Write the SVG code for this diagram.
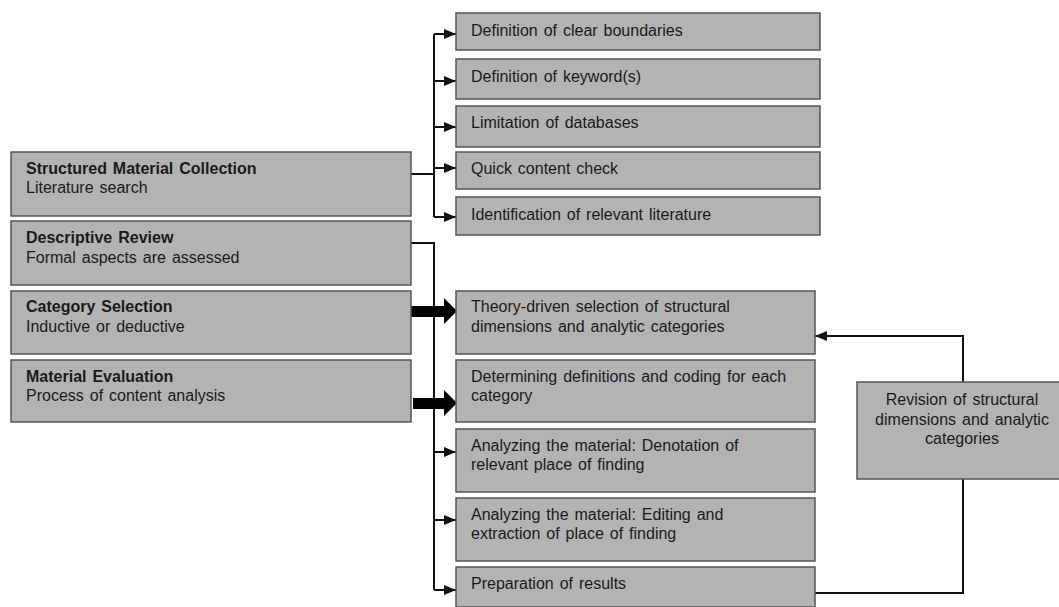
<svg xmlns="http://www.w3.org/2000/svg" width="1059" height="607" viewBox="0 0 1059 607">
<defs>
<style>
.box{fill:#b3b3b3;stroke:#555;stroke-width:1.5}
.t{font-family:"Liberation Sans",Arial,sans-serif;font-size:16px;fill:#1a1a1a;word-spacing:1.5px}
.b{font-weight:bold}
.c{text-anchor:middle}
.ln{fill:none;stroke:#111;stroke-width:2}
</style>
<marker id="ah" markerWidth="12" markerHeight="10" refX="12" refY="5" orient="auto" markerUnits="userSpaceOnUse">
<path d="M0,0 L12,5 L0,10 Z" fill="#111"/>
</marker>
</defs>
<rect width="1059" height="607" fill="#fff"/>

<g id="connectors">
<path class="ln" d="M411,174 H434"/>
<path class="ln" d="M434,34 V217"/>
<path class="ln" d="M434,34 H456" marker-end="url(#ah)"/>
<path class="ln" d="M434,81 H456" marker-end="url(#ah)"/>
<path class="ln" d="M434,127 H456" marker-end="url(#ah)"/>
<path class="ln" d="M434,168 H456" marker-end="url(#ah)"/>
<path class="ln" d="M434,217 H456" marker-end="url(#ah)"/>
<path class="ln" d="M411,243 H434 V590"/>
<path class="ln" d="M434,452 H456" marker-end="url(#ah)"/>
<path class="ln" d="M434,520 H456" marker-end="url(#ah)"/>
<path class="ln" d="M434,590 H456" marker-end="url(#ah)"/>
<path d="M411,306 H444 V298 L457,311 L444,324 V317 H411 Z" fill="#000"/>
<path d="M413,398 H444 V390 L457,403 L444,416 V409 H413 Z" fill="#000"/>
<path class="ln" d="M815,593 H963 V479"/>
<path class="ln" d="M963,382 V336 H815" marker-end="url(#ah)"/>
</g>

<g id="n-smc"><rect class="box" x="11" y="152" width="400" height="64"/>
<text class="t b" x="26" y="174">Structured Material Collection</text>
<text class="t" x="26" y="193">Literature search</text></g>
<g id="n-dr"><rect class="box" x="11" y="221" width="400" height="64"/>
<text class="t b" x="26" y="243">Descriptive Review</text>
<text class="t" x="26" y="263">Formal aspects are assessed</text></g>
<g id="n-cs"><rect class="box" x="11" y="291" width="400" height="63"/>
<text class="t b" x="26" y="312">Category Selection</text>
<text class="t" x="26" y="332">Inductive or deductive</text></g>
<g id="n-me"><rect class="box" x="11" y="360" width="400" height="62"/>
<text class="t b" x="26" y="382">Material Evaluation</text>
<text class="t" x="26" y="401">Process of content analysis</text></g>

<g id="n-r1"><rect class="box" x="456" y="13" width="364" height="37"/>
<text class="t" x="471" y="36">Definition of clear boundaries</text></g>
<g id="n-r2"><rect class="box" x="456" y="59" width="364" height="40"/>
<text class="t" x="471" y="82">Definition of keyword(s)</text></g>
<g id="n-r3"><rect class="box" x="456" y="106" width="364" height="41"/>
<text class="t" x="471" y="128">Limitation of databases</text></g>
<g id="n-r4"><rect class="box" x="456" y="152" width="364" height="37"/>
<text class="t" x="471" y="174">Quick content check</text></g>
<g id="n-r5"><rect class="box" x="456" y="197" width="364" height="38"/>
<text class="t" x="471" y="220">Identification of relevant literature</text></g>

<g id="n-a"><rect class="box" x="456" y="291" width="359" height="63"/>
<text class="t" x="471" y="312">Theory-driven selection of structural</text>
<text class="t" x="471" y="332">dimensions and analytic categories</text></g>
<g id="n-b"><rect class="box" x="456" y="360" width="359" height="62"/>
<text class="t" x="471" y="382">Determining definitions and coding for each</text>
<text class="t" x="471" y="401">category</text></g>
<g id="n-c"><rect class="box" x="456" y="429" width="359" height="63"/>
<text class="t" x="471" y="451">Analyzing the material: Denotation of</text>
<text class="t" x="471" y="470">relevant place of finding</text></g>
<g id="n-d"><rect class="box" x="456" y="498" width="359" height="63"/>
<text class="t" x="471" y="520">Analyzing the material: Editing and</text>
<text class="t" x="471" y="539">extraction of place of finding</text></g>
<g id="n-e"><rect class="box" x="456" y="567" width="359" height="40"/>
<text class="t" x="471" y="589">Preparation of results</text></g>

<g id="n-rev"><rect class="box" x="857" y="382" width="203" height="97"/>
<text class="t c" x="962" y="405">Revision of structural</text>
<text class="t c" x="962" y="425">dimensions and analytic</text>
<text class="t c" x="962" y="444">categories</text></g>
</svg>
